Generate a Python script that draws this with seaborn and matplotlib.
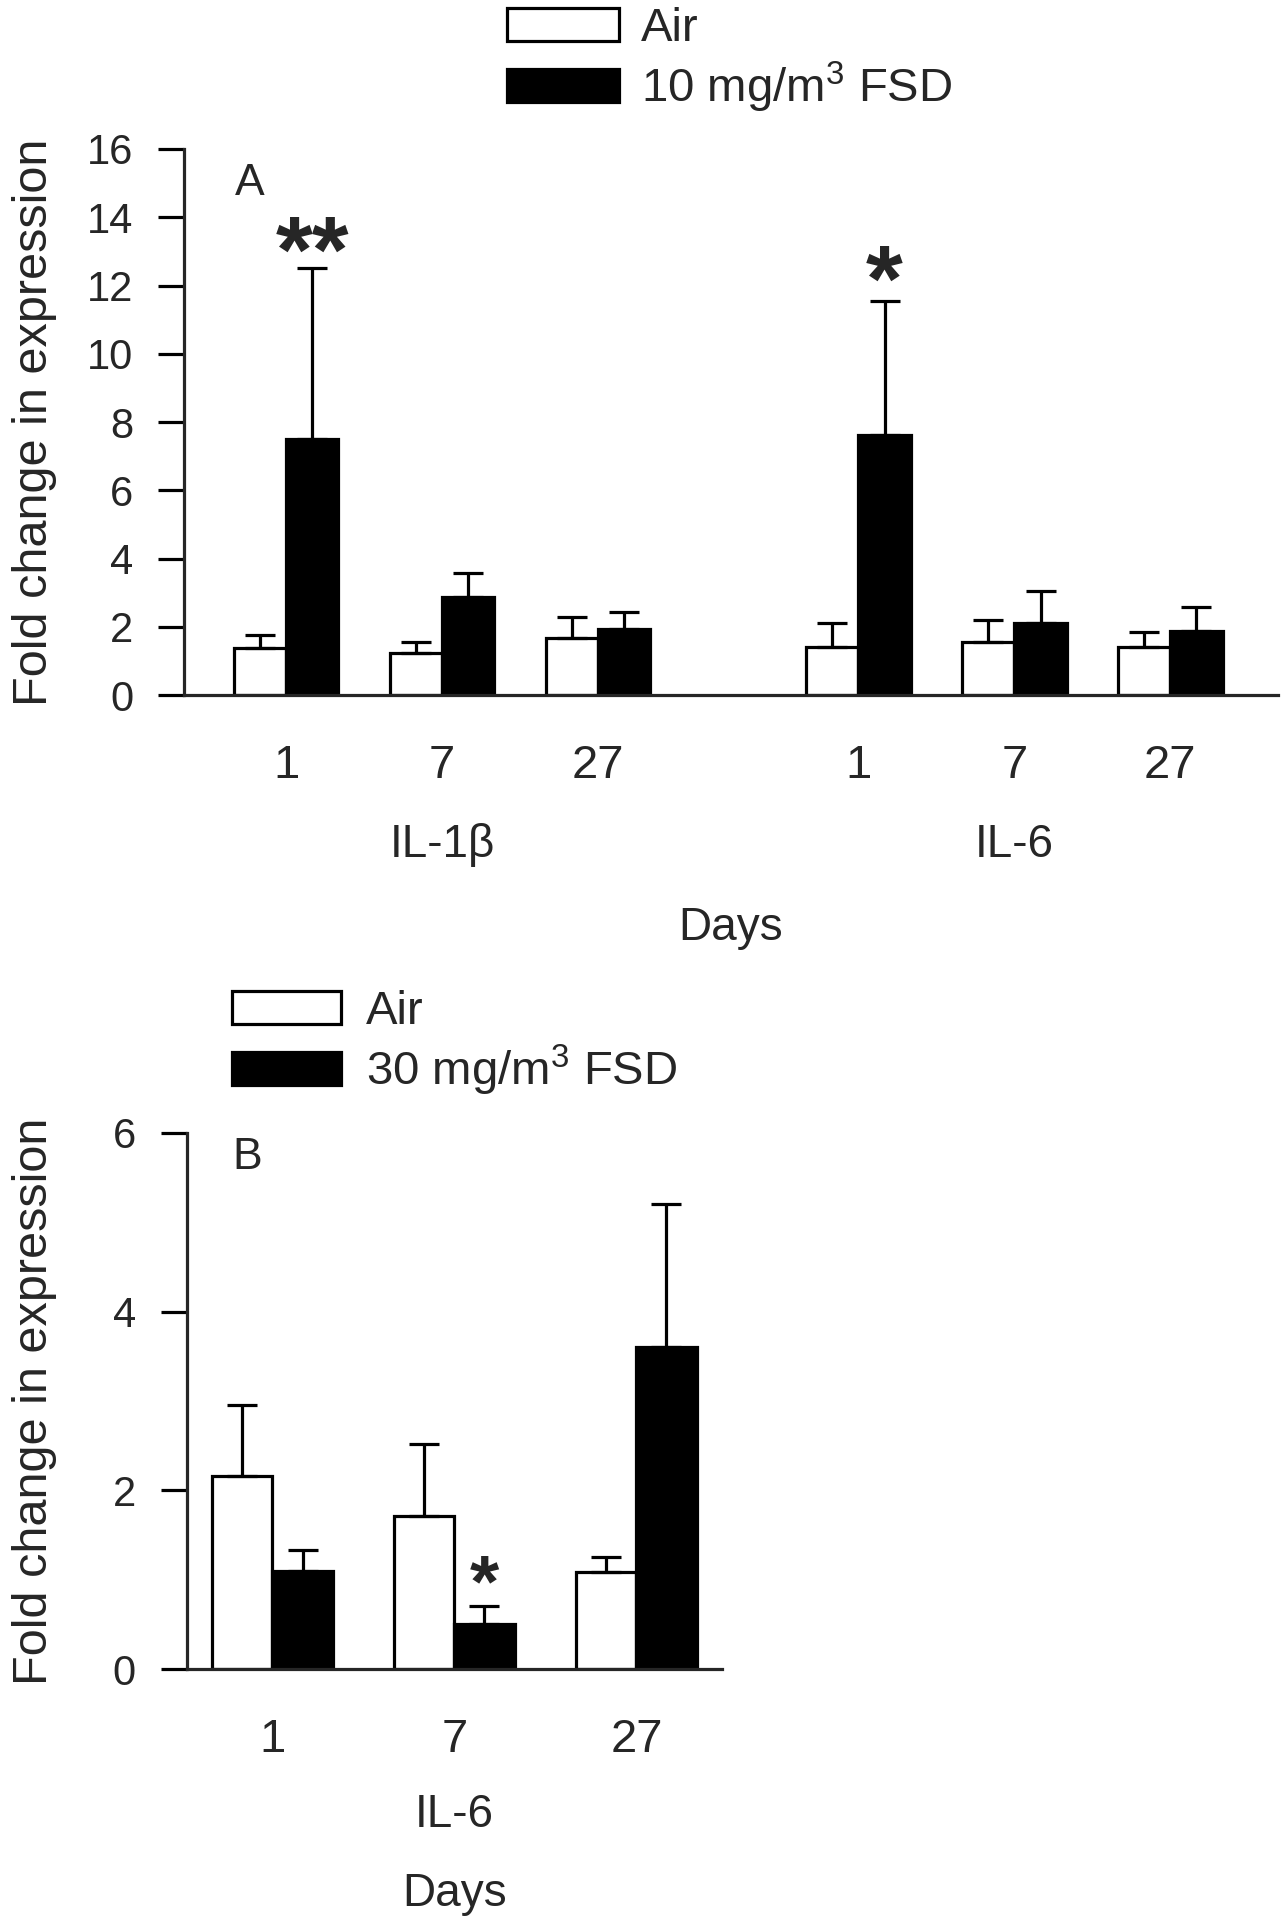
import numpy as np
import pandas as pd
import matplotlib
matplotlib.use("Agg")
import matplotlib.pyplot as plt
import seaborn as sns

# =====================================================
# DATOS
# =====================================================

# Panel A: IL-1b e IL-6, aire vs 10 mg/m3 FSD
pos_a = [0, 1, 2, 3.67, 4.67, 5.67]
days_a = ["1", "7", "27", "1", "7", "27"]
air_a = [1.38, 1.23, 1.68, 1.42, 1.56, 1.42]
air_err_a = [0.37, 0.32, 0.62, 0.68, 0.64, 0.42]
fsd_a = [7.5, 2.88, 1.93, 7.61, 2.1, 1.88]
fsd_err_a = [5.0, 0.70, 0.49, 3.95, 0.95, 0.70]

# Panel B: IL-6, aire vs 30 mg/m3 FSD
pos_b = [0, 1, 2]
days_b = ["1", "7", "27"]
air_b = [2.16, 1.71, 1.09]
air_err_b = [0.80, 0.81, 0.16]
fsd_b = [1.1, 0.5, 3.6]
fsd_err_b = [0.23, 0.21, 1.61]

lab_air = "Air"
lab_fsd_a = "10 mg/m$^3$ FSD"
lab_fsd_b = "30 mg/m$^3$ FSD"

# =====================================================
# ESTILO
# =====================================================

sns.set_style("ticks")
plt.rcParams["font.family"] = ["Liberation Sans", "DejaVu Sans"]
plt.rcParams["mathtext.fontset"] = "custom"
plt.rcParams["mathtext.rm"] = "Liberation Sans"
plt.rcParams["mathtext.it"] = "Liberation Sans:italic"
plt.rcParams["mathtext.bf"] = "Liberation Sans:bold"

LW = 2.3

fig = plt.figure(figsize=(12.84, 19.2), dpi=100)
ax_a = fig.add_axes([0.1433, 0.638, 0.852, 0.2844])
ax_b = fig.add_axes([0.1456, 0.1307, 0.4167, 0.2792])


def draw_panel(ax, pos, air, air_err, fsd, fsd_err, lab_fsd, width):
    df = pd.DataFrame({
        "pos": pos + pos,
        "value": air + fsd,
        "group": [lab_air] * len(pos) + [lab_fsd] * len(pos),
    })
    sns.barplot(
        data=df, x="pos", y="value", hue="group",
        hue_order=[lab_air, lab_fsd],
        palette={lab_air: "white", lab_fsd: "black"},
        native_scale=True, width=width,
        edgecolor="black", linewidth=LW,
        errorbar=None, ax=ax,
    )
    handles, labels = ax.get_legend_handles_labels()
    if ax.get_legend() is not None:
        ax.get_legend().remove()

    # barras de error solo hacia arriba
    for cont, err in zip(ax.containers, [air_err, fsd_err]):
        xs = [p.get_x() + p.get_width() / 2 for p in cont]
        ys = [p.get_height() for p in cont]
        ax.errorbar(
            xs, ys, yerr=[np.zeros(len(err)), err],
            fmt="none", ecolor="black", elinewidth=LW,
            capsize=10.8, capthick=LW, zorder=1,
        )
    return handles, labels


def style_axes(ax):
    sns.despine(ax=ax)
    ax.spines["left"].set_linewidth(LW)
    ax.spines["bottom"].set_linewidth(LW)
    ax.tick_params(axis="y", direction="out", length=18.7, width=LW,
                   pad=18, labelsize=30, color="black")
    ax.tick_params(axis="x", length=0, pad=35, labelsize=34)
    ax.set_xlabel("")
    ax.set_ylabel("")


# =====================================================
# PANEL A
# =====================================================

h_a, l_a = draw_panel(ax_a, pos_a, air_a, air_err_a, fsd_a, fsd_err_a,
                      lab_fsd_a, 0.67)
style_axes(ax_a)
ax_a.set_ylim(0, 16)
ax_a.set_yticks(np.arange(0, 17, 2))
ax_a.set_xlim(-0.654, 6.36)
ax_a.set_xticks(pos_a, days_a)

xt = ax_a.get_xaxis_transform()
ax_a.text(1, -0.297, "IL-1β", transform=xt, ha="center", va="baseline",
          fontsize=33)
ax_a.text(4.67, -0.297, "IL-6", transform=xt, ha="center", va="baseline",
          fontsize=33)
ax_a.text(0.5, -0.449, "Days", transform=ax_a.transAxes, ha="center",
          va="baseline", fontsize=33)

ax_a.text(-0.23, 15.0, "A", ha="center", va="center", fontsize=32)
ax_a.text(0.1675, 12.83, "**", ha="center", va="center", fontsize=68,
          fontweight="bold")
ax_a.text(3.8375, 11.98, "*", ha="center", va="center", fontsize=68,
          fontweight="bold")

fig.legend(h_a, l_a, loc="upper left",
           bbox_to_anchor=(507 / 1284, 1 - 7 / 1920),
           bbox_transform=fig.transFigure,
           frameon=False, fontsize=34, borderpad=0, borderaxespad=0,
           handlelength=2.38, handleheight=0.68, handletextpad=0.46,
           labelspacing=0.18)

# =====================================================
# PANEL B
# =====================================================

h_b, l_b = draw_panel(ax_b, pos_b, air_b, air_err_b, fsd_b, fsd_err_b,
                      lab_fsd_b, 0.66)
style_axes(ax_b)
ax_b.set_ylim(0, 6)
ax_b.set_yticks([0, 2, 4, 6])
ax_b.set_xlim(-0.47, 2.47)
ax_b.set_xticks(pos_b, days_b)

ax_b.text(1, -0.295, "IL-6", transform=ax_b.get_xaxis_transform(),
          ha="center", va="baseline", fontsize=33)
ax_b.text(1, -0.442, "Days", transform=ax_b.get_xaxis_transform(),
          ha="center", va="baseline", fontsize=33)

ax_b.text(-0.14, 5.73, "B", ha="center", va="center", fontsize=32)
ax_b.text(1.165, 0.92, "*", ha="center", va="center", fontsize=54,
          fontweight="bold")

fig.legend(h_b, l_b, loc="upper left",
           bbox_to_anchor=(232 / 1284, 1 - 990 / 1920),
           bbox_transform=fig.transFigure,
           frameon=False, fontsize=34, borderpad=0, borderaxespad=0,
           handlelength=2.3, handleheight=0.68, handletextpad=0.53,
           labelspacing=0.18)

# etiquetas del eje y
fig.text(35 / 1284, 1 - 422 / 1920, "Fold change in expression",
         rotation=90, ha="center", va="center", fontsize=35)
fig.text(35 / 1284, 1 - 1401 / 1920, "Fold change in expression",
         rotation=90, ha="center", va="center", fontsize=35)

fig.savefig("out.png", dpi=100)
